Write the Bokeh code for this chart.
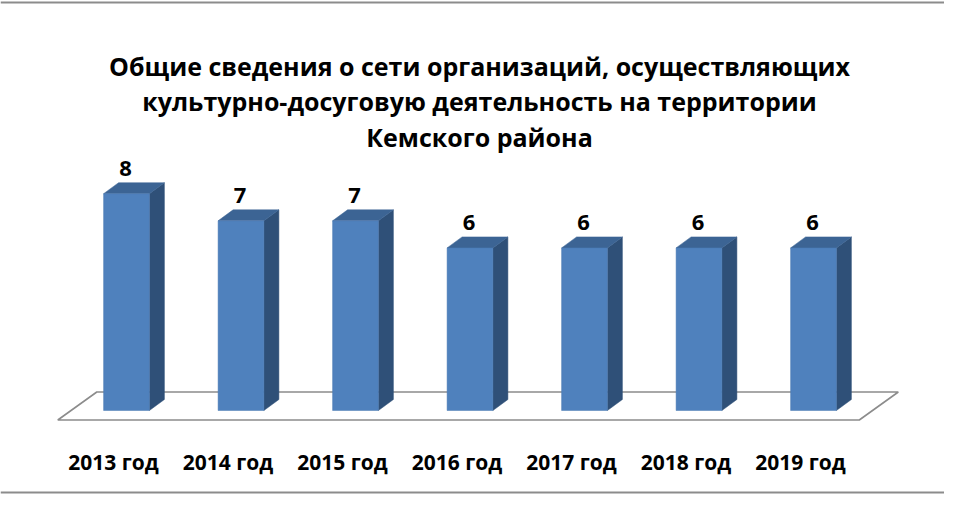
from bokeh.plotting import figure
from bokeh.models import Range1d, Label, Span
from bokeh.core.properties import value
from bokeh.embed import file_html
from bokeh.resources import INLINE

categories = ["2013 год", "2014 год", "2015 год", "2016 год", "2017 год", "2018 год", "2019 год"]
counts = [8, 7, 7, 6, 6, 6, 6]
title_lines = [
    "Общие сведения о сети организаций, осуществляющих",
    "культурно-досуговую деятельность на территории",
    "Кемского района",
]

FONT = "Open Sans"
W, H = 944, 494
PX_X = 114.5   # px per category
PX_Y = 27.1    # px per unit value
ZX, ZY = 126.0, 410.0   # pixel position of (first category, value 0)
x0 = -ZX / PX_X
y0 = -(H - ZY) / PX_Y
p = figure(width=W, height=H, output_backend="svg", toolbar_location=None,
           x_range=Range1d(x0, x0 + W / PX_X), y_range=Range1d(y0, y0 + H / PX_Y),
           x_axis_location=None, y_axis_location=None, min_border=0,
           outline_line_color=None)
p.grid.visible = False

n = len(categories)
xs = list(range(n))
bw = 0.40
dx = 15 / PX_X
dy = 11 / PX_Y

# floor
fl_front_l = -0.5 - 0.1
fl_front_r = n - 0.5 - 0.1
fy = -0.35
fdx, fdy = 39 / PX_X, 28 / PX_Y
p.patch([fl_front_l, fl_front_r, fl_front_r + fdx, fl_front_l + fdx],
        [fy, fy, fy + fdy, fy + fdy],
        fill_color="white", line_color="#8C8C8C", line_width=1.6)

# side and top faces
side_x, side_y, top_x, top_y = [], [], [], []
for i, v in zip(xs, counts):
    r = i + bw / 2
    l = i - bw / 2
    side_x.append([r, r + dx, r + dx, r])
    side_y.append([0, dy, v + dy, v])
    top_x.append([l, r, r + dx, l + dx])
    top_y.append([v, v, v + dy, v + dy])
p.patches(side_x, side_y, fill_color="#2F5078", line_color="#2F5078", line_width=0.5)
p.patches(top_x, top_y, fill_color="#3C6494", line_color="#3C6494", line_width=0.5)
p.vbar(x=xs, top=counts, bottom=0, width=bw, fill_color="#4F81BD", line_color="#4A7AB3", line_width=0.5)

# value labels
p.text(x=[i - 1 / PX_X for i in xs], y=[v + 25 / PX_Y for v in counts], text=[str(v) for v in counts],
       text_font=value(FONT), text_font_style="bold", text_font_size="22px",
       text_align="center", text_baseline="middle", text_color="#000000")

# category labels
p.text(x=[i - 13 / PX_X for i in xs], y=[(ZY - 461.5) / PX_Y] * n, text=categories,
       text_font=value(FONT), text_font_style="bold", text_font_size="21px",
       text_align="center", text_baseline="middle", text_color="#000000")

# title
for k, (line, mid) in enumerate(zip(title_lines, [65.5, 100.5, 136.5])):
    p.add_layout(Label(x=479, y=H - mid, x_units="screen", y_units="screen",
                       text=line, text_font=FONT, text_font_style="bold",
                       text_font_size="25px", text_align="center", text_baseline="middle",
                       text_color="#000000"))

# frame lines (top & bottom)
p.add_layout(Span(location=H - 2, location_units="screen", dimension="width",
                  line_color="#8C8C8C", line_width=2))
p.add_layout(Span(location=2, location_units="screen", dimension="width",
                  line_color="#8C8C8C", line_width=2))

open("out.html", "w").write(file_html(p, INLINE))
